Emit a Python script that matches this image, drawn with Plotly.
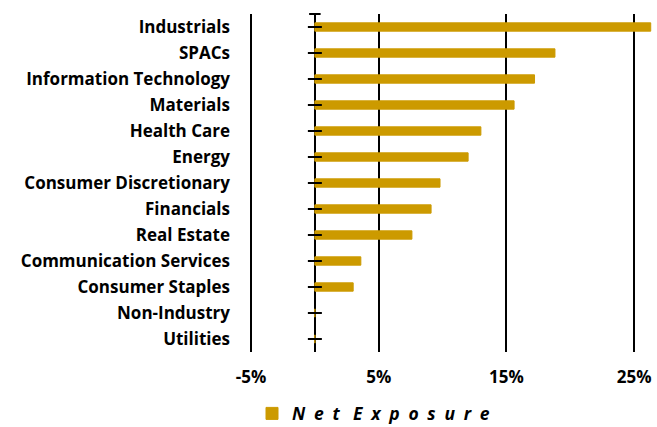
import plotly.graph_objects as go

categories = ["Industrials", "SPACs", "Information Technology", "Materials", "Health Care",
              "Energy", "Consumer Discretionary", "Financials", "Real Estate",
              "Communication Services", "Consumer Staples", "Non-Industry", "Utilities"]
net_exposure = [26.3, 18.8, 17.2, 15.6, 13.0, 12.0, 9.8, 9.1, 7.6, 3.6, 3.0, 0.0, 0.0]
tick_vals = [-5, 5, 15, 25]
tick_text = ["-5%", "5%", "15%", "25%"]
series_name = "Net Exposure"

FONT = "Open Sans"
BAR = "#CC9A00"

legend_label = "\u2002".join(list("Net")) + "\u2002 " + "\u2002".join(list("Exposure"))

fig = go.Figure()
fig.add_trace(go.Bar(
    y=categories, x=net_exposure, orientation="h",
    marker=dict(color=BAR, line=dict(width=1, color=BAR)),
    name=legend_label, hoverinfo="skip",
))
# axis tick marks crossing the zero line
fig.add_trace(go.Scatter(
    y=categories, x=[0] * len(categories), mode="markers",
    marker=dict(symbol="line-ew-open", size=10, color="black",
                line=dict(width=2, color="black")),
    showlegend=False, hoverinfo="skip", cliponaxis=False,
))

fig.add_shape(type="line", xref="x", yref="paper", x0=-0.45, x1=0.45, y0=1, y1=1,
              line=dict(color="black", width=2))

fig.update_layout(
    width=657, height=427,
    margin=dict(l=250, r=5, t=14, b=75, autoexpand=False),
    paper_bgcolor="white", plot_bgcolor="white",
    bargap=0.68,
    font=dict(family=FONT, size=17, color="black"),
    showlegend=True,
    legend=dict(orientation="h", x=0.005, xanchor="left", y=-0.182, yanchor="middle",
                font=dict(family=FONT, size=17.5, color="black", weight="bold", style="italic"),
                itemwidth=30, bgcolor="rgba(0,0,0,0)"),
)
fig.update_xaxes(
    range=[-5.08, 26.4], tickvals=tick_vals, ticktext=tick_text,
    showgrid=True, gridcolor="black", gridwidth=2,
    zeroline=True, zerolinecolor="black", zerolinewidth=2,
    showline=False, ticks="", ticklabelstandoff=13, automargin=False,
    tickfont=dict(family=FONT, size=17, color="black", weight="bold"),
)
fig.update_yaxes(
    autorange=False, range=[len(categories) - 0.5, -0.5],
    showgrid=False, zeroline=False, showline=False,
    ticks="", ticklabelstandoff=19, automargin=False,
    tickfont=dict(family=FONT, size=17, color="black", weight="bold"),
)

fig.write_html("out.html", config={"displayModeBar": False},
               post_script="document.body.style.margin='0';document.body.style.padding='0';")
